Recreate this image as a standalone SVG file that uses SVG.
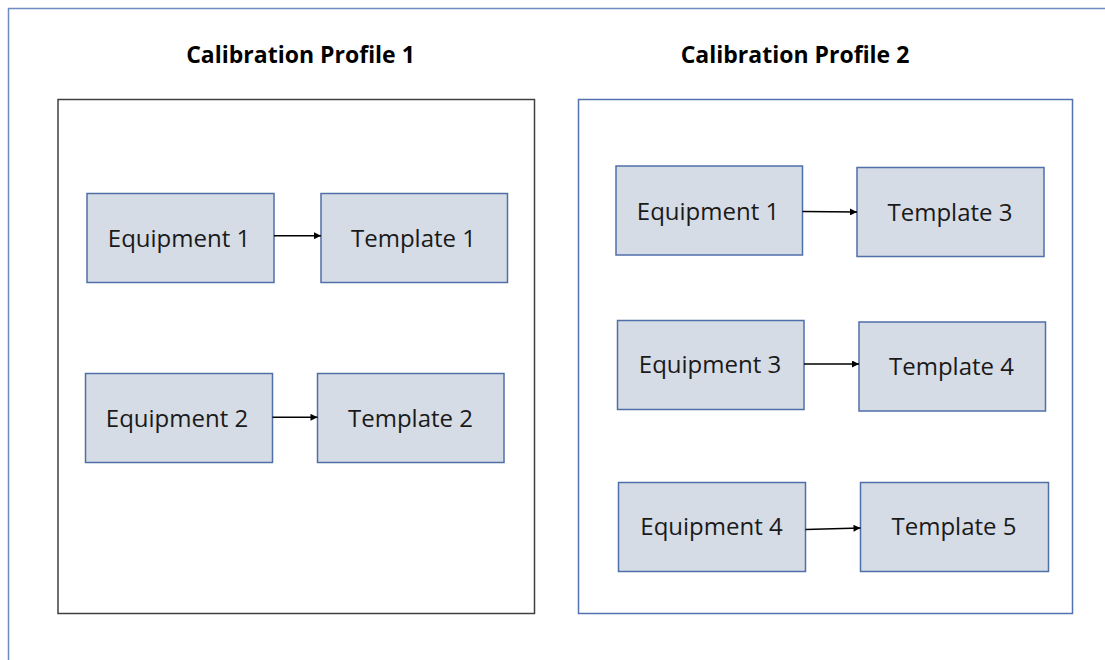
<svg xmlns="http://www.w3.org/2000/svg" width="1105" height="660" viewBox="0 0 1105 660">
<style>
.frame{fill:none;stroke:#6e8cc0;stroke-width:1.5}
.p1{fill:#fff;stroke:#404040;stroke-width:1.5}
.p2{fill:#fff;stroke:#5373b0;stroke-width:1.5}
.node rect{fill:#d6dce5;stroke:#4f6fa8;stroke-width:1.5}
.node text{font-family:"Open Sans","Liberation Sans",sans-serif;font-size:24px;fill:#1a1a1a;text-anchor:middle}
.title{font-family:"Open Sans","Liberation Sans",sans-serif;font-size:23px;font-weight:bold;fill:#000;text-anchor:middle}
.conn line{stroke:#000;stroke-width:1.4;marker-end:url(#ah)}
</style>
<defs>
<marker id="ah" viewBox="0 0 10 10" refX="10" refY="5" markerWidth="6" markerHeight="5" markerUnits="strokeWidth" orient="auto">
<path d="M0,0 L10,5 L0,10 z" fill="#000"/>
</marker>
</defs>
<rect width="1105" height="660" fill="#fff"/>
<path class="frame" d="M8.5,660 V8.5 H1105"/>
<g id="profile1">
<text class="title" x="300.5" y="63">Calibration Profile 1</text>
<rect class="p1" x="58" y="99.5" width="476.5" height="514"/>
</g>
<g id="profile2">
<text class="title" x="795" y="63">Calibration Profile 2</text>
<rect class="p2" x="578.5" y="99.5" width="494" height="514"/>
</g>
<g id="p1-equipment1" class="node"><rect x="87" y="193.5" width="187" height="89"/><text x="179" y="246.5">Equipment 1</text></g>
<g id="p1-template1" class="node"><rect x="321" y="193.5" width="186.5" height="89"/><text x="413.5" y="246.5">Template 1</text></g>
<g id="p1-equipment2" class="node"><rect x="85.5" y="373.5" width="187" height="89"/><text x="177" y="426.5">Equipment 2</text></g>
<g id="p1-template2" class="node"><rect x="317.5" y="373.5" width="186.5" height="89"/><text x="410.5" y="426.5">Template 2</text></g>
<g id="p2-equipment1" class="node"><rect x="616" y="166" width="186.5" height="89"/><text x="708" y="220">Equipment 1</text></g>
<g id="p2-template3" class="node"><rect x="857" y="167.5" width="187" height="89"/><text x="950" y="221">Template 3</text></g>
<g id="p2-equipment3" class="node"><rect x="617.5" y="320.5" width="186.5" height="89"/><text x="710" y="373">Equipment 3</text></g>
<g id="p2-template4" class="node"><rect x="859" y="322" width="186.5" height="89"/><text x="951.5" y="375">Template 4</text></g>
<g id="p2-equipment4" class="node"><rect x="618.5" y="482.5" width="187" height="89"/><text x="711.5" y="535">Equipment 4</text></g>
<g id="p2-template5" class="node"><rect x="860.5" y="482.5" width="188" height="89"/><text x="954" y="535">Template 5</text></g>
<g id="connectors" class="conn">
<line x1="274" y1="235.7" x2="321" y2="235.7"/>
<line x1="272.5" y1="417.3" x2="317.5" y2="417.3"/>
<line x1="802.5" y1="211.5" x2="857" y2="212"/>
<line x1="804" y1="364" x2="859" y2="364"/>
<line x1="805.5" y1="529.5" x2="860.5" y2="528"/>
</g>
</svg>
